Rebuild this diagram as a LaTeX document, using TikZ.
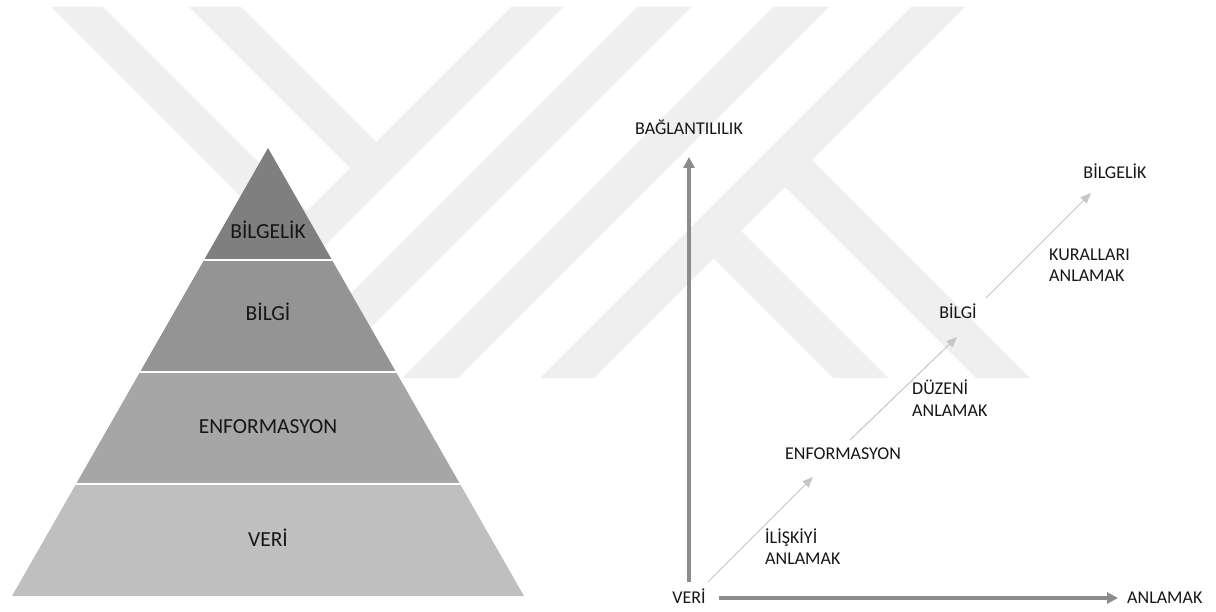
\documentclass[tikz,border=0pt]{standalone}
\usepackage{fontspec}
\setmainfont{Carlito}
\usetikzlibrary{arrows.meta}

\definecolor{txt}{RGB}{22,22,22}
\definecolor{mark}{RGB}{239,239,239}
\definecolor{lvlA}{RGB}{127,127,127}
\definecolor{lvlB}{RGB}{148,148,148}
\definecolor{lvlC}{RGB}{166,166,166}
\definecolor{lvlD}{RGB}{191,191,191}
\definecolor{axisgray}{RGB}{140,140,140}
\definecolor{flowgray}{RGB}{198,198,198}

\begin{document}
\begin{tikzpicture}[x=1pt,y=-1pt,
  band/.style={fill=mark},
  seam/.style={draw=white,line width=2.6pt},
  pyrlabel/.style={font=\fontsize{21.5}{24}\selectfont,text=txt,inner sep=0pt,
                   text height=13.8pt,text depth=0pt},
  lbl/.style={font=\fontsize{18}{21}\selectfont,text=txt,inner sep=0pt,
              text height=11.6pt,text depth=0pt},
  twolbl/.style={font=\fontsize{18}{21}\selectfont,text=txt,inner sep=0pt,
                 align=left,anchor=base west},
  axisarrow/.style={draw=axisgray,line width=3.3pt,
                    -{Triangle[length=11pt,width=11pt]}},
  flowarrow/.style={draw=flowgray,line width=1pt,
                    -{Triangle[length=10.5pt,width=8.5pt]}}]

\useasboundingbox (0,0) rectangle (1216,612);
\fill[white] (0,0) rectangle (1216,612);

% background emblem: diagonal bands
\fill[band] (511,7) -- (563,7) -- (192,378) -- (140,378) -- cycle;
\fill[band] (637,7) -- (691,7) -- (320,378) -- (266,378) -- cycle;
\fill[band] (773,7) -- (829,7) -- (458,378) -- (402,378) -- cycle;
\fill[band] (911,7) -- (965,7) -- (594,378) -- (540,378) -- cycle;
\fill[band] (51,7) -- (103,7) -- (313,217) -- (287,243) -- cycle;
\fill[band] (189,7) -- (241,7) -- (382,148) -- (356,174) -- cycle;
\fill[band] (735,225) -- (888,378) -- (833,378) -- (707.5,252.5) -- cycle;
\fill[band] (806,154) -- (1030,378) -- (976,378) -- (779,181) -- cycle;

% pyramid
\fill[lvlA] (268,148) -- (332,260) -- (204,260) -- cycle;
\fill[lvlB] (204,260) -- (332,260) -- (396,372) -- (140,372) -- cycle;
\fill[lvlC] (140,372) -- (396,372) -- (460,484) -- (76,484) -- cycle;
\fill[lvlD] (76,484) -- (460,484) -- (524,596) -- (12,596) -- cycle;
\draw[seam] (202,260) -- (334,260);
\draw[seam] (138,372) -- (398,372);
\draw[seam] (74,484) -- (462,484);

\node[pyrlabel] (p4) at (268,232) {BİLGELİK};
\node[pyrlabel] (p3) at (268,314) {BİLGİ};
\node[pyrlabel] (p2) at (268,427) {ENFORMASYON};
\node[pyrlabel] (p1) at (268,540) {VERİ};

% axes diagram
\node[lbl] (conn) at (689,129) {BAĞLANTILILIK};
\node[lbl] (dat) at (689,598) {VERİ};
\node[lbl,anchor=west] (und) at (1127,598) {ANLAMAK};
\node[lbl] (inf) at (843,454) {ENFORMASYON};
\node[lbl] (kno) at (958,313) {BİLGİ};
\node[lbl] (wis) at (1115,173) {BİLGELİK};
\node[twolbl] (rel) at (765,564) {İLİŞKİYİ\\ANLAMAK};
\node[twolbl] (ord) at (912,416) {DÜZENİ\\ANLAMAK};
\node[twolbl] (rul) at (1049,282) {KURALLARI\\ANLAMAK};

\coordinate (vfoot) at (689,582);
\coordinate (vtip) at (689,157);
\coordinate (hfoot) at (719,598);
\coordinate (htip) at (1118,598);
\draw[axisarrow] (vfoot) -- (vtip);
\draw[axisarrow] (hfoot) -- (htip);

\coordinate (d1a) at (708,582);
\coordinate (d1b) at (813,477);
\coordinate (d2a) at (850,440);
\coordinate (d2b) at (957,337);
\coordinate (d3a) at (986,298);
\coordinate (d3b) at (1091,193);
\draw[flowarrow] (d1a) -- (d1b);
\draw[flowarrow] (d2a) -- (d2b);
\draw[flowarrow] (d3a) -- (d3b);

\end{tikzpicture}
\end{document}
